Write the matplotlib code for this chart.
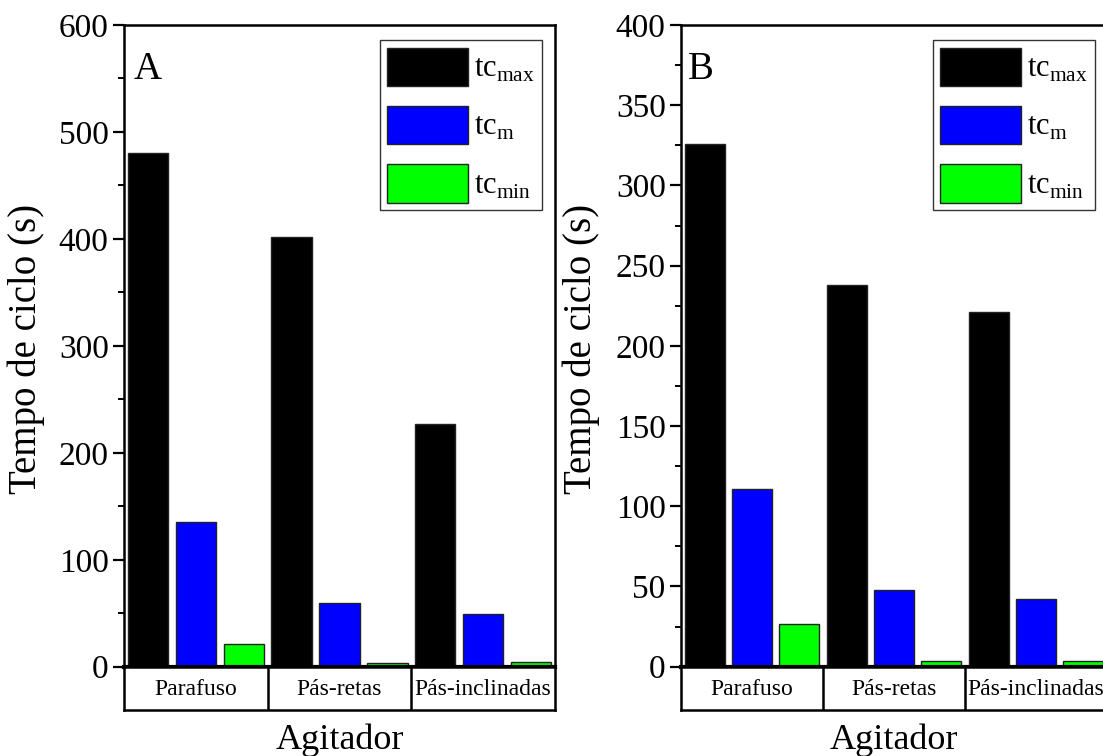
import numpy as np
import matplotlib
matplotlib.use("Agg")
import matplotlib.pyplot as plt
from matplotlib.ticker import MultipleLocator

plt.rcParams["font.family"] = ["Liberation Serif", "DejaVu Serif"]
plt.rcParams["mathtext.fontset"] = "custom"
plt.rcParams["mathtext.rm"] = "Liberation Serif"

agitadores = ["Parafuso", "Pás-retas", "Pás-inclinadas"]
series = ["tc_max", "tc_m", "tc_min"]
rotulos = [r"$\mathrm{tc}_{\mathrm{max}}$", r"$\mathrm{tc}_{\mathrm{m}}$",
           r"$\mathrm{tc}_{\mathrm{min}}$"]
cores = ["#000000", "#0000ff", "#00ff00"]

# painel A
tc_max_A = [480, 402, 227]
tc_m_A = [135, 60, 49.5]
tc_min_A = [21.5, 3.2, 4.4]
# painel B
tc_max_B = [326, 238, 221]
tc_m_B = [111, 47.5, 42]
tc_min_B = [26.5, 3.7, 3.7]

W, H = 1103, 756
fig = plt.figure(figsize=(W / 100, H / 100), dpi=100)


def painel(x0, x1, letra, dados, ymax, maj, mino, lx, leg_x, ylab_x):
    y0, y1 = 666.7, 25
    ax = fig.add_axes([x0 / W, 1 - y0 / H, (x1 - x0) / W, (y0 - y1) / H])
    x = np.arange(1, 4)
    for k, (vals, cor, rot) in enumerate(zip(dados, cores, rotulos)):
        ax.bar(x + (k - 1) / 3, vals, width=0.28, color=cor,
               edgecolor="#222222", linewidth=1.0, label=rot, zorder=2)
    ax.set_xlim(0.5, 3.5)
    ax.set_ylim(0, ymax)
    ax.yaxis.set_major_locator(MultipleLocator(maj))
    ax.yaxis.set_minor_locator(MultipleLocator(mino))
    ax.set_xticks([])
    ax.tick_params(axis="y", which="major", direction="out", length=8,
                   width=1.6, labelsize=24, pad=3)
    ax.tick_params(axis="y", which="minor", direction="out", length=4,
                   width=1.4)
    for s in ["left", "top", "right"]:
        ax.spines[s].set_linewidth(1.8)
    ax.spines["bottom"].set_linewidth(3.0)
    ax.spines["bottom"].set_zorder(3)
    ax.text(lx, 0.916, letra, transform=ax.transAxes, fontsize=28,
            va="baseline", ha="left")
    ax.set_ylabel("Tempo de ciclo (s)", fontsize=28)
    ax.yaxis.set_label_coords(ylab_x, 0.495)
    leg = ax.legend(loc="upper right", bbox_to_anchor=(leg_x, 0.976),
                    borderaxespad=0, fontsize=22, handlelength=2.65,
                    handleheight=1.55, handletextpad=0.18, labelspacing=0.65,
                    borderpad=0.25, fancybox=False, framealpha=1)
    leg.get_frame().set_edgecolor("#333333")
    leg.get_frame().set_linewidth(1.0)

    # caixa das categorias
    axc = fig.add_axes([x0 / W, 1 - 710 / H, (x1 - x0) / W, (710 - y0) / H])
    axc.set_xlim(0.5, 3.5)
    axc.set_ylim(0, 1)
    axc.set_xticks([])
    axc.set_yticks([])
    for s in axc.spines.values():
        s.set_linewidth(1.8)
    for d in [1.5, 2.5]:
        axc.axvline(d, color="black", lw=1.8)
    for i, nome in enumerate(agitadores):
        axc.text(i + 1, 0.48, nome, ha="center", va="center", fontsize=17)
    axc.set_xlabel("Agitador", fontsize=26, labelpad=10)
    return ax


painel(124, 555, "A", [tc_max_A, tc_m_A, tc_min_A], 600, 100, 50,
       0.023, 0.970, -0.183)
painel(681, 1107, "B", [tc_max_B, tc_m_B, tc_min_B], 400, 50, 25,
       0.016, 0.972, -0.19)

fig.savefig("out.png", dpi=100)
